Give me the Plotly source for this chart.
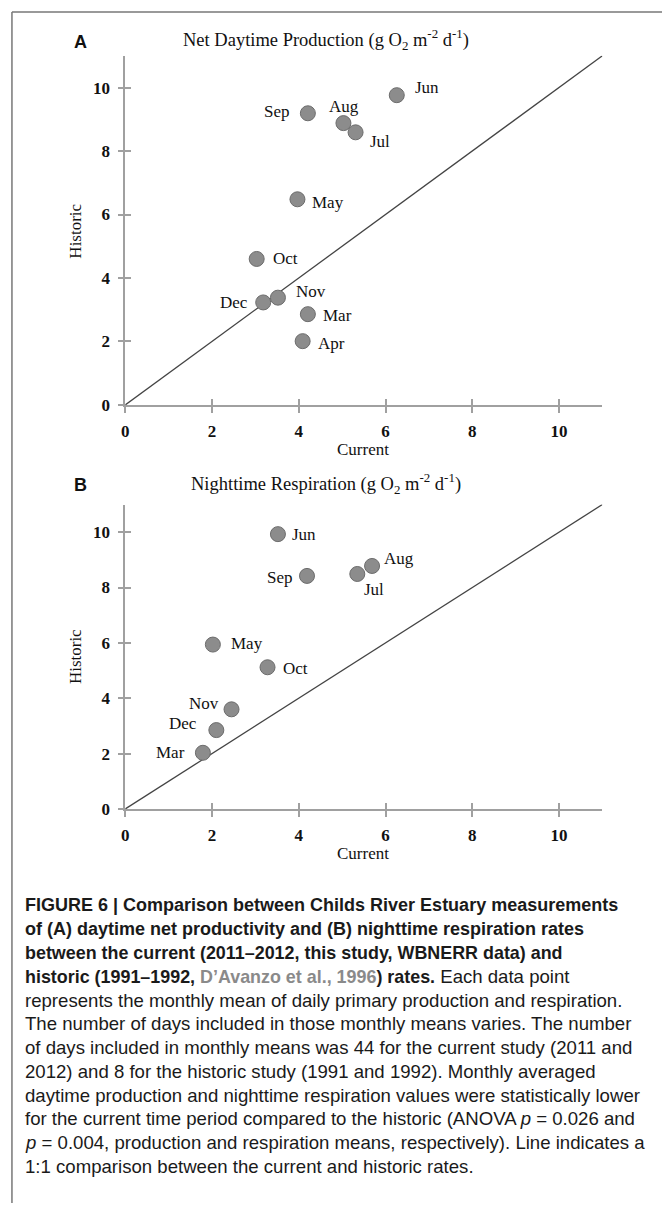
import plotly.graph_objects as go

W, H = 662, 1213

# ---------------- data ----------------
months_a = ["Jun", "Sep", "Aug", "Jul", "May", "Oct", "Nov", "Dec", "Mar", "Apr"]
current_a = [6.26, 4.21, 5.03, 5.31, 3.97, 3.03, 3.52, 3.18, 4.21, 4.09]
historic_a = [9.76, 9.19, 8.88, 8.59, 6.48, 4.60, 3.38, 3.23, 2.86, 2.01]

months_b = ["Jun", "Aug", "Jul", "Sep", "May", "Oct", "Nov", "Dec", "Mar"]
current_b = [3.52, 5.69, 5.35, 4.19, 2.02, 3.28, 2.45, 2.10, 1.79]
historic_b = [9.93, 8.78, 8.49, 8.42, 5.94, 5.12, 3.60, 2.85, 2.03]

one_to_one = [0, 11]
tick_vals = [0, 2, 4, 6, 8, 10]
tick_text = ["0", "2", "4", "6", "8", "10"]

title_a = "Net Daytime Production (g O<sub>2</sub> m<sup>-2</sup> d<sup>-1</sup>)"
title_b = "Nighttime Respiration (g O<sub>2</sub> m<sup>-2</sup> d<sup>-1</sup>)"

# label offsets (px) relative to each point: (dx, dy) with dy positive = down
offs_a = [(30, -8), (-31, -2), (1, -17), (24, 9), (31, 3), (29, 0), (33, -6), (-29, 0), (30, 1), (29, 2)]
offs_b = [(26, 0), (27, -7), (17, 16), (-27, 2), (34, -1), (28, 1), (-28, -6), (-33, -7), (-32, 0)]

BS = "<span style='font-size:17.9px'>"  # bold run inside a regular-size line
caption_lines = [
    ("<b>FIGURE 6 | Comparison between Childs River Estuary measurements</b>", 18.0),
    ("<b>of (A) daytime net productivity and (B) nighttime respiration rates</b>", 18.0),
    ("<b>between the current (2011–2012, this study, WBNERR data) and</b>", 17.9),
    (BS + "<b>historic (1991–1992, <span style='color:#8a8a8a'>D’Avanzo et al., 1996</span>) rates.</b></span> Each data point", 18.6),
    ("represents the monthly mean of daily primary production and respiration.", 18.6),
    ("The number of days included in those monthly means varies. The number", 18.6),
    ("of days included in monthly means was 44 for the current study (2011 and", 18.6),
    ("2012) and 8 for the historic study (1991 and 1992). Monthly averaged", 18.6),
    ("daytime production and nighttime respiration values were statistically lower", 18.6),
    ("for the current time period compared to the historic (ANOVA <i>p</i> = 0.026 and", 18.6),
    ("<i>p</i> = 0.004, production and respiration means, respectively). Line indicates a", 18.6),
    ("1:1 comparison between the current and historic rates.", 18.6),
]

# ---------------- layout helpers ----------------
def px(x):
    return x / W

def py(y):
    return 1 - y / H

SERIF = "Liberation Serif"
SANS = "Liberation Sans"

x_dom = [px(122), px(602)]
ya_dom = [py(408.3), py(56.3)]
yb_dom = [py(815.7), py(508.7)]

fig = go.Figure()

marker = dict(size=15, color="#8c8c8c", line=dict(color="#6c6c6c", width=1))
line_style = dict(color="#444444", width=1.3)

for (xs, ys, xa, ya) in [(current_a, historic_a, "x", "y"), (current_b, historic_b, "x2", "y2")]:
    fig.add_trace(go.Scatter(x=one_to_one, y=one_to_one, mode="lines", line=line_style,
                             xaxis=xa, yaxis=ya, hoverinfo="skip", showlegend=False))
    fig.add_trace(go.Scatter(x=xs, y=ys, mode="markers", marker=marker,
                             xaxis=xa, yaxis=ya, showlegend=False))

annotations = []
for months, xs, ys, offs, xr, yr in [
    (months_a, current_a, historic_a, offs_a, "x", "y"),
    (months_b, current_b, historic_b, offs_b, "x2", "y2"),
]:
    for m, xv, yv, (dx, dy) in zip(months, xs, ys, offs):
        annotations.append(dict(x=xv, y=yv, xref=xr, yref=yr, text=m, showarrow=False,
                                xshift=dx, yshift=-dy, xanchor="center", yanchor="middle",
                                font=dict(family=SERIF, size=17, color="#111")))

# titles & panel letters
for txt, y in [(title_a, 40), (title_b, 488)]:
    annotations.append(dict(x=px(324), y=py(y), xref="paper", yref="paper", text=txt,
                            showarrow=False, xanchor="center", yanchor="middle",
                            font=dict(family=SERIF, size=18.5, color="#111")))
for txt, y in [("A", 42), ("B", 489)]:
    annotations.append(dict(x=px(77), y=py(y), xref="paper", yref="paper", text="<b>" + txt + "</b>",
                            showarrow=False, xanchor="center", yanchor="middle",
                            font=dict(family=SANS, size=18, color="#111")))
# axis titles
for y in [233, 662]:
    annotations.append(dict(x=px(72), y=py(y), xref="paper", yref="paper", text="Historic",
                            showarrow=False, textangle=-90, xanchor="center", yanchor="middle",
                            font=dict(family=SERIF, size=17, color="#111")))
for y in [453, 861]:
    annotations.append(dict(x=px(361), y=py(y), xref="paper", yref="paper", text="Current",
                            showarrow=False, xanchor="center", yanchor="middle",
                            font=dict(family=SERIF, size=17, color="#111")))

# caption
for i, (line, fs) in enumerate(caption_lines):
    annotations.append(dict(x=px(19), y=py(913 + i * 23.9), xref="paper", yref="paper", text=line,
                            showarrow=False, xanchor="left", yanchor="middle",
                            font=dict(family=SANS, size=fs, color="#1a1a1a")))

axis_common = dict(range=[0, 11], tickvals=tick_vals, ticktext=tick_text,
                   showgrid=False, zeroline=False, showline=True, linecolor="#a0a0a0", linewidth=1.5,
                   ticks="outside", ticklen=6, tickcolor="#a0a0a0", tickwidth=1.5,
                   ticklabelstandoff=4,
                   tickfont=dict(family=SERIF, size=17, color="#111", weight="bold"))
overlay_common = dict(range=[0, 11], tickvals=tick_vals, showgrid=False, zeroline=False,
                      showline=False, ticks="inside", ticklen=6, tickcolor="#a0a0a0", tickwidth=1.5,
                      showticklabels=False)

fig.update_layout(
    width=W, height=H, margin=dict(l=0, r=0, t=0, b=0),
    paper_bgcolor="white", plot_bgcolor="rgba(0,0,0,0)",
    showlegend=False,
    xaxis=dict(domain=x_dom, anchor="y", **axis_common),
    yaxis=dict(domain=ya_dom, anchor="x", **axis_common),
    xaxis2=dict(domain=x_dom, anchor="y2", **axis_common),
    yaxis2=dict(domain=yb_dom, anchor="x2", **axis_common),
    xaxis3=dict(overlaying="x", anchor="y", **overlay_common),
    yaxis3=dict(overlaying="y", anchor="x", **overlay_common),
    xaxis4=dict(overlaying="x2", anchor="y2", **overlay_common),
    yaxis4=dict(overlaying="y2", anchor="x2", **overlay_common),
    annotations=annotations,
    shapes=[
        dict(type="line", xref="paper", yref="paper", x0=px(8), x1=1, y0=py(12), y1=py(12),
             line=dict(color="#777", width=1.5)),
        dict(type="line", xref="paper", yref="paper", x0=px(8), x1=px(8), y0=py(12), y1=0,
             line=dict(color="#777", width=1.5)),
    ],
)

# invisible traces so overlay axes render
for xa, ya in [("x3", "y3"), ("x4", "y4")]:
    fig.add_trace(go.Scatter(x=[None], y=[None], xaxis=xa, yaxis=ya, showlegend=False, hoverinfo="skip"))

fig.write_html("out.html",
               config={"displayModeBar": False},
               post_script="document.body.style.margin='0';document.body.style.overflow='hidden';")
